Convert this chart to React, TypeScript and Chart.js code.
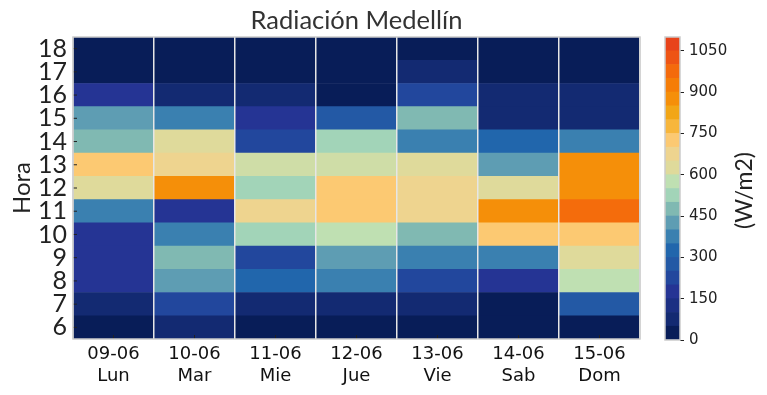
import React, { useEffect, useRef } from "react";
import { Chart, registerables } from "chart.js";

Chart.register(...registerables);

// ---- data ----
const chartTitle = "Radiación Medellín";
const dayLabels: string[][] = [
  ["09-06", "Lun"],
  ["10-06", "Mar"],
  ["11-06", "Mie"],
  ["12-06", "Jue"],
  ["13-06", "Vie"],
  ["14-06", "Sab"],
  ["15-06", "Dom"],
];
const hours = [6, 7, 8, 9, 10, 11, 12, 13, 14, 15, 16, 17, 18];

// radiation (W/m2) per hour 6..18
const lun = [25, 75, 175, 175, 175, 375, 625, 725, 475, 425, 175, 25, 25];
const mar = [75, 225, 425, 475, 375, 175, 875, 675, 625, 375, 75, 25, 25];
const mie = [25, 75, 325, 225, 525, 675, 525, 600, 225, 175, 75, 25, 25];
const jue = [25, 75, 375, 425, 575, 725, 725, 600, 525, 275, 25, 25, 25];
const vie = [25, 75, 225, 375, 475, 675, 675, 625, 375, 475, 225, 75, 25];
const sab = [25, 25, 175, 375, 725, 875, 625, 425, 325, 75, 75, 25, 25];
const dom = [25, 275, 575, 625, 725, 970, 875, 875, 375, 75, 75, 25, 25];
const series = [lun, mar, mie, jue, vie, sab, dom];

// colour scale
const levelEdges = [
  0, 50, 100, 150, 200, 250, 300, 350, 400, 450, 500, 550, 600, 650, 700, 750,
  800, 850, 900, 950, 1000, 1050, 1100,
];
const levelColors = [
  "#081d58", "#132a72", "#1b2f83", "#253494", "#22479d", "#2359a5",
  "#2166ac", "#3a80b0", "#5e9db3", "#80b9b2", "#a2d4b8", "#bfe0b2",
  "#dfda9b", "#eed48f", "#fcc972", "#f7b63c", "#f2a616", "#f58f09",
  "#f57d07", "#f46a0c", "#ee5414", "#e8431a",
];
const colorbarTicks = [0, 150, 300, 450, 600, 750, 900, 1050];

const DEJAVU = "'DejaVu Sans', sans-serif";
const LATO = "Lato, sans-serif";

function hexToRgb(h: string): number[] {
  const n = parseInt(h.slice(1), 16);
  return [(n >> 16) & 255, (n >> 8) & 255, n & 255];
}

function colorFor(v: number): string {
  const centers = levelColors.map((_, i) => (levelEdges[i] + levelEdges[i + 1]) / 2);
  if (v <= centers[0]) return levelColors[0];
  if (v >= centers[centers.length - 1]) return levelColors[levelColors.length - 1];
  for (let i = 0; i < centers.length - 1; i++) {
    if (v >= centers[i] && v <= centers[i + 1]) {
      const t = (v - centers[i]) / (centers[i + 1] - centers[i]);
      const a = hexToRgb(levelColors[i]);
      const b = hexToRgb(levelColors[i + 1]);
      const c = a.map((x, k) => Math.round(x + (b[k] - x) * t));
      return `rgb(${c[0]},${c[1]},${c[2]})`;
    }
  }
  return levelColors[0];
}

const frameAndTicks = {
  id: "frameAndTicks",
  afterDraw(chart: any) {
    const { ctx, chartArea } = chart;
    const xs = chart.scales.x;
    const ys = chart.scales.y;
    ctx.save();
    ctx.strokeStyle = "#222";
    ctx.lineWidth = 1;
    xs.ticks.forEach((_: any, i: number) => {
      const px = xs.getPixelForTick(i);
      ctx.beginPath();
      ctx.moveTo(px, chartArea.bottom);
      ctx.lineTo(px, chartArea.bottom - 4);
      ctx.stroke();
    });
    ys.ticks.forEach((_: any, i: number) => {
      const py = ys.getPixelForTick(i);
      ctx.beginPath();
      ctx.moveTo(chartArea.left, py);
      ctx.lineTo(chartArea.left + 4, py);
      ctx.stroke();
    });
    ctx.strokeStyle = "#cccccc";
    ctx.lineWidth = 1.5;
    ctx.strokeRect(
      chartArea.left,
      chartArea.top,
      chartArea.right - chartArea.left,
      chartArea.bottom - chartArea.top
    );
    // title centred over the plot area
    ctx.fillStyle = "#333";
    ctx.font = "25.5px Lato, sans-serif";
    ctx.textAlign = "center";
    ctx.textBaseline = "alphabetic";
    ctx.fillText(chartTitle, (chartArea.left + chartArea.right) / 2, 29);
    ctx.restore();
  },
};

const colorbarDecor = {
  id: "colorbarDecor",
  afterDraw(chart: any) {
    const { ctx, chartArea } = chart;
    ctx.save();
    ctx.strokeStyle = "#cccccc";
    ctx.lineWidth = 1.5;
    ctx.strokeRect(
      chartArea.left,
      chartArea.top,
      chartArea.right - chartArea.left,
      chartArea.bottom - chartArea.top
    );
    ctx.translate(90, (chartArea.top + chartArea.bottom) / 2 + 2);
    ctx.rotate(-Math.PI / 2);
    ctx.fillStyle = "#222";
    ctx.font = "23px Lato, sans-serif";
    ctx.textAlign = "center";
    ctx.textBaseline = "middle";
    ctx.fillText("(W/m2)", 0, 0);
    ctx.restore();
  },
};

export default function App() {
  const mainRef = useRef<HTMLCanvasElement>(null);
  const cbRef = useRef<HTMLCanvasElement>(null);

  useEffect(() => {
    document.body.style.margin = "0";
    const datasets = hours.map((h, hi) => ({
      label: String(h),
      data: dayLabels.map(() => [h - 0.5, h + 0.5]),
      backgroundColor: series.map((s) => colorFor(s[hi])),
      borderWidth: 0,
      grouped: false,
      barPercentage: 1,
      categoryPercentage: 1,
    }));

    const main = new Chart(mainRef.current!, {
      type: "bar",
      data: { labels: dayLabels, datasets: datasets as any },
      options: {
        responsive: false,
        animation: false,
        layout: { padding: { left: 0, right: 15, top: 37, bottom: 0 } },
        plugins: {
          legend: { display: false },
          tooltip: { enabled: false },
          title: { display: false },
        },
        scales: {
          x: {
            type: "category",
            offset: true,
            grid: {
              display: true,
              offset: true,
              color: "#e6e6e6",
              lineWidth: 1.5,
              drawTicks: false,
              z: 1,
            },
            border: { display: false },
            ticks: {
              color: "#111",
              font: { family: DEJAVU, size: 18 },
              padding: 5,
              maxRotation: 0,
              autoSkip: false,
            },
            afterFit: (s: any) => {
              s.height = 56;
            },
          },
          y: {
            type: "linear",
            min: 5.5,
            max: 18.5,
            afterBuildTicks: (s: any) => {
              s.ticks = hours.map((v) => ({ value: v }));
            },
            grid: { display: false, drawTicks: false },
            border: { display: false },
            ticks: {
              color: "#222",
              font: { family: LATO, size: 25 },
              padding: 6,
              autoSkip: false,
            },
            title: {
              display: true,
              text: "Hora",
              color: "#222",
              font: { family: LATO, size: 24 },
              padding: { top: 8, bottom: 0 },
            },
            afterFit: (s: any) => {
              s.width = 73;
            },
          },
        },
      } as any,
      plugins: [frameAndTicks],
    });

    const cb = new Chart(cbRef.current!, {
      type: "bar",
      data: {
        labels: [""],
        datasets: levelColors.map((c, i) => ({
          data: [[levelEdges[i], levelEdges[i + 1]]],
          backgroundColor: c,
          borderWidth: 0,
          grouped: false,
          barPercentage: 1,
          categoryPercentage: 1,
        })) as any,
      },
      options: {
        responsive: false,
        animation: false,
        layout: { padding: { left: 10, top: 37, bottom: 55, right: 0 } },
        plugins: { legend: { display: false }, tooltip: { enabled: false } },
        scales: {
          x: { display: false },
          y: {
            position: "right",
            min: 0,
            max: 1100,
            afterBuildTicks: (s: any) => {
              s.ticks = colorbarTicks.map((v) => ({ value: v }));
            },
            grid: {
              drawOnChartArea: false,
              drawTicks: true,
              tickLength: 4,
              color: "#222",
              lineWidth: 1,
            },
            border: { display: false },
            ticks: {
              color: "#222",
              font: { family: DEJAVU, size: 15 },
              padding: 5,
              callback: (v: any) => String(v),
            },
            afterFit: (s: any) => {
              s.width = 87;
            },
          },
        },
      } as any,
      plugins: [colorbarDecor],
    });

    return () => {
      main.destroy();
      cb.destroy();
    };
  }, []);

  return (
    <div style={{ position: "relative", width: 767, height: 395, background: "#fff" }}>
      <canvas
        ref={mainRef}
        width={655}
        height={395}
        style={{ position: "absolute", left: 0, top: 0 }}
      />
      <canvas
        ref={cbRef}
        width={112}
        height={395}
        style={{ position: "absolute", left: 655, top: 0 }}
      />
    </div>
  );
}
